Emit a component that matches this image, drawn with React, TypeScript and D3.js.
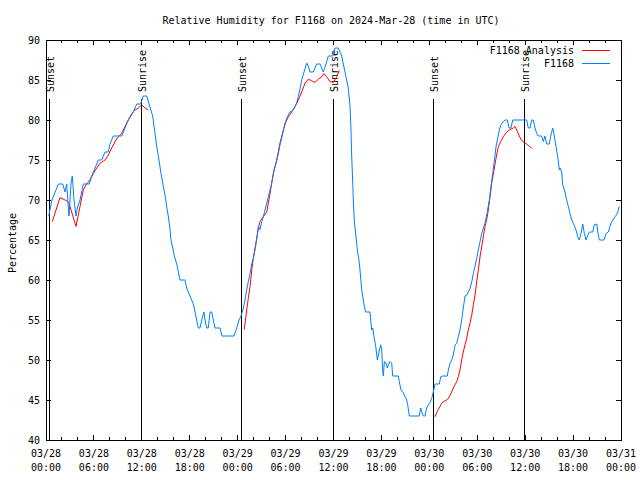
import React from "react";
import * as d3 from "d3";

const TITLE = "Relative Humidity for F1168 on 2024-Mar-28 (time in UTC)";
const Y_LABEL = "Percentage";
const SERIES_NAMES = ["F1168 Analysis", "F1168"];
const SERIES_COLORS = ["#ff0000", "#0080ff"];
const START = Date.UTC(2024, 2, 28, 0, 0);
const END = Date.UTC(2024, 2, 31, 0, 0);
const Y_MIN = 40;
const Y_MAX = 90;
const Y_TICKS = [40, 45, 50, 55, 60, 65, 70, 75, 80, 85, 90];

// hours after 03/28 00:00 UTC
const sunsetHours = [0.41, 24.51, 48.5];
const sunriseHours = [11.98, 35.98, 59.89];

// Observed F1168 (hours since start, percent)
const obsHours = [
  0.34, 0.75, 1.54, 2.09, 2.38, 2.59, 2.88, 3.13, 3.29, 3.51, 3.76, 3.92, 4.26, 4.67, 5.42, 5.72, 6.14, 6.55, 6.97, 7.39,
  7.8, 8.01, 8.43, 9.48, 9.89, 10.31, 10.93, 11.36, 11.86, 12.18, 12.61, 12.9, 13.36, 13.65, 13.86, 14.15, 14.4, 14.69,
  14.94, 15.11, 15.31, 15.53, 15.65, 15.87, 16.07, 16.37, 16.57, 16.78, 17.41, 17.62, 18.03, 18.45, 18.66, 18.87, 19.07,
  19.28, 19.5, 19.78, 19.91, 20.12, 20.32, 20.54, 20.75, 20.95, 21.16, 21.79, 22.04, 23.54, 23.88, 24.17, 24.42, 24.71,
  24.92, 25.13, 25.33, 25.55, 25.76, 25.96, 26.17, 26.38, 26.59, 26.8, 27.01, 27.21, 27.64, 28.05, 28.26, 28.46, 28.8,
  29.09, 29.3, 29.64, 29.93, 30.22, 30.55, 30.97, 31.31, 31.59, 31.81, 32.02, 32.31, 32.65, 32.85, 33.06, 33.47, 33.9,
  34.31, 34.52, 34.72, 35.06, 35.35, 35.9, 36.19, 36.6, 36.82, 37.03, 37.23, 37.44, 37.65, 37.85, 38.07, 38.19, 38.28,
  38.41, 38.48, 38.61, 38.82, 38.98, 39.16, 39.32, 39.53, 39.73, 39.86, 40.03, 40.57, 40.66, 40.78, 40.91, 41.07, 41.29,
  41.49, 41.7, 41.91, 42.04, 42.16, 42.24, 42.37, 42.58, 42.74, 42.86, 43.08, 43.29, 43.41, 44.12, 44.24, 44.45, 44.74,
  44.95, 45.17, 45.29, 45.49, 46.74, 46.92, 47.05, 47.25, 47.46, 47.67, 47.87, 48.08, 48.3, 48.5, 48.71, 49.25, 49.42,
  49.67, 50.25, 50.38, 50.59, 50.8, 51.0, 51.22, 51.43, 51.63, 51.84, 52.05, 52.25, 52.47, 52.68, 52.88, 53.09, 53.31,
  53.51, 53.72, 53.93, 54.13, 54.35, 54.56, 54.76, 54.97, 55.26, 55.51, 55.72, 55.93, 56.13, 56.35, 56.56, 56.76, 56.97,
  57.26, 57.48, 57.77, 57.98, 58.23, 58.44, 60.19, 60.39, 60.61, 60.82, 61.02, 61.23, 61.45, 61.65, 62.07, 62.27, 62.48,
  62.7, 63.02, 63.2, 63.45, 63.65, 63.86, 64.08, 64.28, 64.36, 64.58, 64.7, 64.99, 65.2, 65.4, 65.62, 65.83, 66.03,
  66.37, 66.58, 66.78, 66.99, 67.21, 67.41, 67.62, 67.83, 68.03, 68.46, 68.66, 68.96, 69.16, 69.29, 69.87, 70.12, 70.41,
  70.62, 70.84, 71.25, 71.54, 71.79,
];
const obsValues = [
  68, 70, 72, 72, 71, 72, 68, 72, 73, 70, 68, 69, 70, 72, 72, 73, 74, 75, 75, 76,
  76, 77, 78, 78, 79, 80, 81, 82, 82, 83, 83, 82, 80.5, 78.3, 76.7, 75, 73.3, 71.7,
  70.4, 69.2, 68, 66.3, 65, 64, 63, 62, 61, 60, 60, 59, 58, 57, 56, 55, 54,
  54, 55, 56, 55, 54, 54, 56, 56, 55, 54, 54, 53, 53, 54, 55, 55.5, 56.5,
  57.5, 58.75, 59.8, 60.8, 62, 62.7, 63.75, 65, 66.7, 66.3, 67.3, 67.9, 69.6, 71.25, 72.1, 73.3, 74.6,
  75.8, 76.9, 78.3, 79.6, 80.4, 81, 81.25, 81.9, 82.9, 83.9, 85, 86, 87.1, 86.7, 86, 86, 87,
  87, 86.5, 86, 87, 88, 88, 89, 89, 88.5, 88, 87, 86, 85, 84, 81.7, 78.75, 75.4,
  72.1, 70, 67.3, 65.4, 63.75, 62.7, 61.25, 58.75, 57.5, 56.7, 56, 56, 55, 53.75, 54, 52.9, 51.7,
  50, 51, 51.9, 51.25, 48.75, 48, 49.8, 49.6, 49, 49.4, 49.8, 49.6, 48, 48, 47.3, 46.25, 45.9,
  45.4, 45, 44.4, 43, 43, 44, 43.5, 43, 43, 44, 44.4, 44.7, 45.2, 46, 47, 47, 47.9,
  48, 48, 48.75, 49.6, 50, 50.6, 51.9, 52.1, 52.9, 53.75, 55, 56.5, 58, 58.1, 58.5, 58.9, 59.8,
  60.8, 61.7, 62.7, 63.75, 64.8, 65.8, 66.5, 67.1, 68.5, 70, 71.7, 73.3, 74.8, 76.7, 77.7, 78.75, 79.4,
  79.8, 80, 80, 79, 79, 80, 80, 79, 79, 80, 80, 79, 78.3, 78, 78, 77.3, 78,
  77, 77, 78, 79, 78, 76.7, 75.4, 73.75, 74, 73.5, 71.9, 71, 70, 69.2, 68.3, 67.5, 67.1,
  66.25, 65.4, 65, 65.8, 67, 65.8, 65, 65.6, 66, 66, 66.9, 67, 65.6, 65, 65, 65.8, 66,
  66.7, 67.3, 67.9, 68.3, 69.2,
];

// Analysis (null separates the runs)
const analysisHours = [
  0.79, 1.75, 2.59, 2.88, 3.76, 4.26, 4.67, 5.01, 5.51, 5.92, 6.35, 6.76, 7.39, 7.8, 8.23, 8.64, 9.05, 9.48, 9.89,
  10.31, 10.73, 11.14, 11.56, 11.98, 12.4, 12.81, null,
  24.83, 25.13, 25.33, 25.55, 25.76, 25.96, 26.17, 26.38, 26.59, 26.8, 27.21, 27.64, 28.05, 28.26, 28.55, 28.89, 29.3,
  29.72, 30.05, 30.34, 30.77, 31.18, 31.59, 32.02, 32.43, 32.85, 33.27, 33.68, 34.1, 34.52, 34.81, 35.15, 35.56, 35.98,
  36.4, 36.73, null,
  48.71, 48.92, 49.12, 49.34, 49.55, 49.75, 50.18, 50.38, 50.59, 50.8, 51.0, 51.22, 51.43, 51.63, 51.84, 52.05, 52.25,
  52.47, 52.68, 52.88, 53.09, 53.31, 53.51, 53.72, 53.93, 54.13, 54.35, 54.56, 54.76, 54.97, 55.26, 55.6, 55.81, 56.1,
  56.35, 56.64, 56.94, 57.26, 57.6, 58.01, 58.51, 58.73, 58.94, 59.27, 59.57, 59.86, 60.19, 60.52, 60.82,
];
const analysisValues = [
  67.3, 70.3, 69.9, 69.6, 66.7, 69.2, 71.25, 71.9, 72.5, 73.3, 74, 74.6, 75, 75.6, 76.5, 77.3, 77.9, 78.3, 79.2,
  80, 80.8, 81.25, 81.5, 81.9, 81.5, 81.25, null,
  53.8, 56.25, 57.7, 59.2, 61.25, 62.7, 64, 65.2, 66.5, 67.3, 67.9, 68.5, 70.8, 72.1, 73.75, 75, 77.1,
  78.75, 79.8, 80.4, 81, 81.7, 82.5, 83.5, 84.6, 85.1, 84.9, 84.7, 85.1, 85.4, 85.8, 85.4, 84.8, 84.7,
  85.4, 86.2, null,
  42.9, 43.4, 43.8, 44.2, 44.6, 44.8, 45, 45.2, 45.6, 46, 46.5, 46.9, 47.3, 47.9, 48.75, 50, 51,
  51.9, 52.7, 53.75, 54.6, 55.6, 56.9, 58.1, 59.8, 61.25, 62.9, 64.2, 65.4, 66.7, 67.9, 70.4, 72.1, 73.75,
  75.2, 76.7, 77.3, 77.9, 78.4, 78.75, 79, 79.2, 78.75, 78, 77.4, 77.2, 77, 76.7, 76.5,
];

const W = 640;
const H = 480;
const L = 46;
const R = 621;
const T = 40;
const B = 440;
const FONT = "'DejaVu Sans Mono', 'Liberation Mono', monospace";

const toDate = (h: number) => new Date(START + h * 3600 * 1000);

export default function App() {
  const x = d3.scaleUtc().domain([new Date(START), new Date(END)]).range([L, R]);
  const y = d3.scaleLinear().domain([Y_MIN, Y_MAX]).range([B, T]);

  const majorTicks = d3.utcHour.every(6)!.range(new Date(START), new Date(END + 1));
  const minorTicks = d3.utcHour.every(2)!.range(new Date(START), new Date(END + 1)).filter((d) => d.getUTCHours() % 6 !== 0);
  const fmtDate = d3.utcFormat("%m/%d");
  const fmtTime = d3.utcFormat("%H:%M");

  type P = { t: Date; v: number } | null;
  const obs: P[] = obsHours.map((h, i) => ({ t: toDate(h), v: obsValues[i] }));
  const ana: P[] = analysisHours.map((h, i) =>
    h == null || analysisValues[i] == null ? null : { t: toDate(h as number), v: analysisValues[i] as number }
  );

  const line = d3
    .line<P>()
    .defined((d) => d != null)
    .x((d) => x(d!.t))
    .y((d) => y(d!.v));

  const sunLines = [
    ...sunsetHours.map((h) => ({ h, label: "Sunset" })),
    ...sunriseHours.map((h) => ({ h, label: "Sunrise" })),
  ];

  return (
    <svg
      width={W}
      height={H}
      style={{ position: "absolute", left: 0, top: 0, background: "#fff" }}
      fontFamily={FONT}
      fontSize={10}
    >
      <rect x={0} y={0} width={W} height={H} fill="#fff" />
      <text x={331} y={20} textAnchor="middle" dominantBaseline="central" fill="#000">
        {TITLE}
      </text>

      {/* y ticks */}
      {Y_TICKS.map((v) => (
        <g key={"y" + v}>
          <line x1={L} x2={L + 5} y1={y(v)} y2={y(v)} stroke="#000" shapeRendering="crispEdges" />
          <line x1={R - 5} x2={R} y1={y(v)} y2={y(v)} stroke="#000" shapeRendering="crispEdges" />
          <text x={40} y={y(v)} textAnchor="end" dominantBaseline="central" fill="#000">
            {v}
          </text>
        </g>
      ))}

      {/* x ticks */}
      {majorTicks.map((d, i) => (
        <g key={"xm" + i}>
          <line x1={x(d)} x2={x(d)} y1={B} y2={B - 5} stroke="#000" shapeRendering="crispEdges" />
          <line x1={x(d)} x2={x(d)} y1={T} y2={T + 5} stroke="#000" shapeRendering="crispEdges" />
          <text x={x(d)} y={453} textAnchor="middle" dominantBaseline="central" fill="#000">
            {fmtDate(d)}
          </text>
          <text x={x(d)} y={467} textAnchor="middle" dominantBaseline="central" fill="#000">
            {fmtTime(d)}
          </text>
        </g>
      ))}
      {minorTicks.map((d, i) => (
        <g key={"xn" + i}>
          <line x1={x(d)} x2={x(d)} y1={B} y2={B - 3} stroke="#000" shapeRendering="crispEdges" />
          <line x1={x(d)} x2={x(d)} y1={T} y2={T + 3} stroke="#000" shapeRendering="crispEdges" />
        </g>
      ))}

      <text
        transform={`translate(12,${(T + B) / 2 + 3}) rotate(-90)`}
        textAnchor="middle"
        dominantBaseline="central"
        fill="#000"
      >
        {Y_LABEL}
      </text>

      {/* sun lines */}
      {sunLines.map((s, i) => {
        const sx = Math.floor(x(toDate(s.h))) + 0.5;
        return (
          <g key={"s" + i}>
            <line x1={sx} x2={sx} y1={99} y2={B} stroke="#000" strokeWidth={1} />
            <text
              transform={`translate(${sx + 1},92) rotate(-90)`}
              textAnchor="start"
              dominantBaseline="central"
              fill="#000"
            >
              {s.label}
            </text>
          </g>
        );
      })}

      {/* data */}
      <path d={line(ana) ?? ""} fill="none" stroke={SERIES_COLORS[0]} strokeWidth={1} />
      <path d={line(obs) ?? ""} fill="none" stroke={SERIES_COLORS[1]} strokeWidth={1} />

      {/* legend */}
      {SERIES_NAMES.map((n, i) => (
        <g key={"lg" + i}>
          <text x={574} y={50 + i * 13} textAnchor="end" dominantBaseline="central" fill="#000">
            {n}
          </text>
          <line x1={582} x2={610} y1={50 + i * 13 + 0.5} y2={50 + i * 13 + 0.5} stroke={SERIES_COLORS[i]} />
        </g>
      ))}

      {/* frame */}
      <rect x={L + 0.5} y={T + 0.5} width={R - L} height={B - T} fill="none" stroke="#000" strokeWidth={1} />
    </svg>
  );
}
